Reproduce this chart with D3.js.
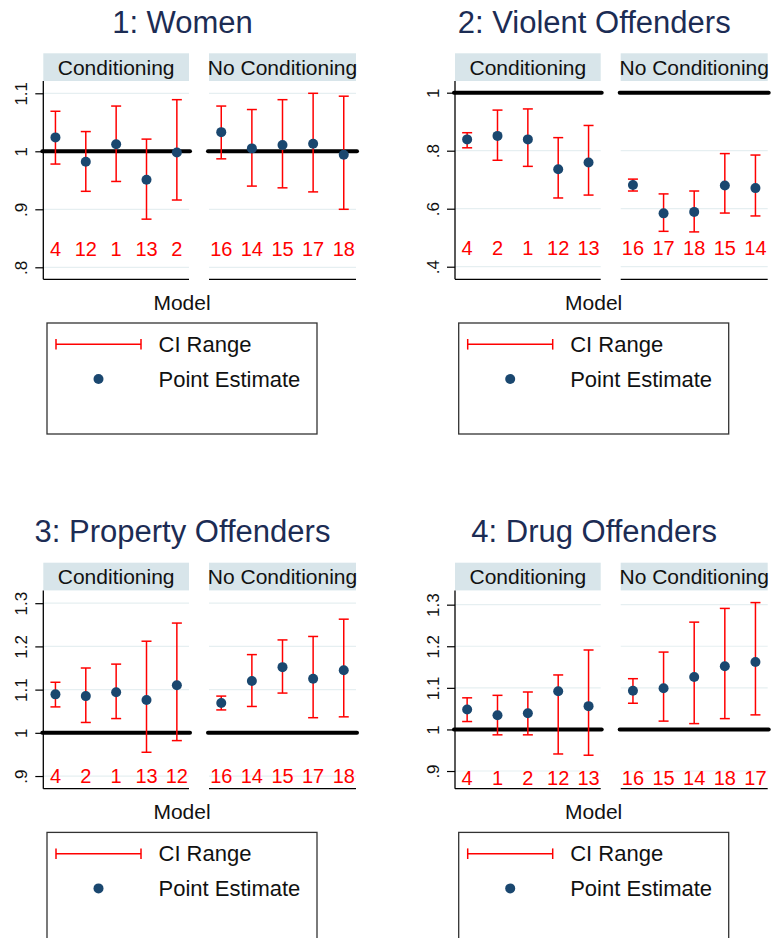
<!DOCTYPE html>
<html>
<head>
<meta charset="utf-8">
<script src="https://cdn.jsdelivr.net/npm/d3@7"></script>
<style>
  html, body { margin: 0; padding: 0; background: #fff; }
  svg { display: block; font-family: "Liberation Sans", Arial, sans-serif; }
</style>
</head>
<body>
<svg id="chart" width="771" height="938"></svg>
<script>
// ---------- data ----------
const panelTitles = ["1: Women", "2: Violent Offenders", "3: Property Offenders", "4: Drug Offenders"];
const facetNames = ["Conditioning", "No Conditioning"];

const womenModels = [["4", "12", "1", "13", "2"], ["16", "14", "15", "17", "18"]];
const womenEst = [1.024, 0.982, 1.012, 0.951, 0.998, 1.033, 1.005, 1.011, 1.013, 0.994];
const womenLo  = [0.978, 0.931, 0.948, 0.883, 0.916, 0.987, 0.940, 0.937, 0.930, 0.900];
const womenHi  = [1.069, 1.034, 1.078, 1.021, 1.089, 1.078, 1.072, 1.089, 1.100, 1.095];

const violentModels = [["4", "2", "1", "12", "13"], ["16", "17", "18", "15", "14"]];
const violentEst = [0.839, 0.851, 0.839, 0.736, 0.759, 0.682, 0.584, 0.589, 0.680, 0.671];
const violentLo  = [0.810, 0.767, 0.746, 0.637, 0.647, 0.661, 0.522, 0.520, 0.585, 0.575];
const violentHi  = [0.862, 0.940, 0.944, 0.845, 0.887, 0.702, 0.651, 0.661, 0.790, 0.785];

const propertyModels = [["4", "2", "1", "13", "12"], ["16", "14", "15", "17", "18"]];
const propertyEst = [1.089, 1.085, 1.094, 1.076, 1.110, 1.069, 1.120, 1.152, 1.125, 1.145];
const propertyLo  = [1.060, 1.024, 1.033, 0.955, 0.982, 1.053, 1.061, 1.092, 1.035, 1.037];
const propertyHi  = [1.117, 1.150, 1.159, 1.212, 1.254, 1.085, 1.181, 1.215, 1.223, 1.263];

const drugModels = [["4", "1", "2", "12", "13"], ["16", "15", "14", "18", "17"]];
const drugEst = [1.048, 1.034, 1.039, 1.092, 1.056, 1.093, 1.099, 1.126, 1.152, 1.162];
const drugLo  = [1.019, 0.987, 0.987, 0.941, 0.938, 1.063, 1.020, 1.014, 1.026, 1.035];
const drugHi  = [1.076, 1.082, 1.090, 1.131, 1.191, 1.122, 1.186, 1.258, 1.291, 1.305];

const womenTicks = [0.8, 0.9, 1, 1.1];
const womenTickLabels = [".8", ".9", "1", "1.1"];
const violentTicks = [0.4, 0.6, 0.8, 1];
const violentTickLabels = [".4", ".6", ".8", "1"];
const propertyTicks = [0.9, 1, 1.1, 1.2, 1.3];
const propertyTickLabels = [".9", "1", "1.1", "1.2", "1.3"];
const drugTicks = [0.9, 1, 1.1, 1.2, 1.3];
const drugTickLabels = [".9", "1", "1.1", "1.2", "1.3"];

const referenceValue = 1;
const legendLabels = ["CI Range", "Point Estimate"];
const xTitle = "Model";

// ---------- panel configuration (built from arrays above) ----------
const panels = [
  { title: panelTitles[0], models: womenModels, est: womenEst, lo: womenLo, hi: womenHi,
    ticks: womenTicks, tickLabels: womenTickLabels, domain: [0.7793, 1.1212], labelAt: 0.832, ox: 0, oy: 0 },
  { title: panelTitles[1], models: violentModels, est: violentEst, lo: violentLo, hi: violentHi,
    ticks: violentTicks, tickLabels: violentTickLabels, domain: [0.3566, 1.0403], labelAt: 0.463, ox: 411.7, oy: 0 },
  { title: panelTitles[2], models: propertyModels, est: propertyEst, lo: propertyLo, hi: propertyHi,
    ticks: propertyTicks, tickLabels: propertyTickLabels, domain: [0.8707, 1.3296], labelAt: 0.9, ox: 0, oy: 509.4 },
  { title: panelTitles[3], models: drugModels, est: drugEst, lo: drugLo, hi: drugHi,
    ticks: drugTicks, tickLabels: drugTickLabels, domain: [0.8575, 1.3343], labelAt: 0.883, ox: 411.7, oy: 509.4 }
];

const COL_TITLE = "#1c2c54";
const COL_POINT = "#1a476f";
const COL_CI = "#ff0000";
const COL_STRIP = "#d8e5ea";
const COL_GRID = "#e6eff1";

const svg = d3.select("#chart");
svg.append("rect").attr("width", 771).attr("height", 938).attr("fill", "#fff");

panels.forEach(p => {
  const g = svg.append("g").attr("transform", `translate(${p.ox},${p.oy})`);
  const plotTop = 81, plotBottom = 279.3;
  const facetRanges = [[43.3, 189], [209, 356]];
  const y = d3.scaleLinear().domain(p.domain).range([plotBottom, plotTop]);

  // title
  g.append("text").attr("x", 182.5).attr("y", 33).attr("text-anchor", "middle")
    .attr("font-size", 31).attr("fill", COL_TITLE).text(p.title);

  facetRanges.forEach((fr, fi) => {
    const x = d3.scaleLinear().domain([0.6, 5.4]).range(fr);
    const fg = g.append("g");

    // strip
    fg.append("rect").attr("x", fr[0]).attr("y", 53.3).attr("width", fr[1] - fr[0]).attr("height", 81 - 53.3)
      .attr("fill", COL_STRIP);
    fg.append("text").attr("x", (fr[0] + fr[1]) / 2).attr("y", 74.5).attr("text-anchor", "middle")
      .attr("font-size", 21).attr("fill", "#111").text(facetNames[fi]);

    // gridlines
    fg.selectAll("line.grid").data(p.ticks).join("line").attr("class", "grid")
      .attr("x1", fr[0]).attr("x2", fr[1]).attr("y1", d => y(d)).attr("y2", d => y(d))
      .attr("stroke", COL_GRID).attr("stroke-width", 1.2);

    // bottom axis line
    fg.append("line").attr("x1", fr[0]).attr("x2", fr[1]).attr("y1", plotBottom).attr("y2", plotBottom)
      .attr("stroke", "#000").attr("stroke-width", 1.3);

    // reference line
    fg.append("line").attr("x1", fr[0] - 1).attr("x2", fr[1] + 1)
      .attr("y1", y(referenceValue)).attr("y2", y(referenceValue))
      .attr("stroke", "#000").attr("stroke-width", 4).attr("stroke-linecap", "round");

    const rows = p.models[fi].map((m, i) => ({
      m, pos: i + 1, est: p.est[fi * 5 + i], lo: p.lo[fi * 5 + i], hi: p.hi[fi * 5 + i]
    }));

    // CI bars
    const ci = fg.selectAll("g.ci").data(rows).join("g").attr("class", "ci");
    ci.append("line").attr("x1", d => x(d.pos)).attr("x2", d => x(d.pos))
      .attr("y1", d => y(d.lo)).attr("y2", d => y(d.hi)).attr("stroke", COL_CI).attr("stroke-width", 1.5);
    ci.append("line").attr("x1", d => x(d.pos) - 5).attr("x2", d => x(d.pos) + 5)
      .attr("y1", d => y(d.lo)).attr("y2", d => y(d.lo)).attr("stroke", COL_CI).attr("stroke-width", 1.5);
    ci.append("line").attr("x1", d => x(d.pos) - 5).attr("x2", d => x(d.pos) + 5)
      .attr("y1", d => y(d.hi)).attr("y2", d => y(d.hi)).attr("stroke", COL_CI).attr("stroke-width", 1.5);

    // points
    fg.selectAll("circle.pt").data(rows).join("circle").attr("class", "pt")
      .attr("cx", d => x(d.pos)).attr("cy", d => y(d.est)).attr("r", 5).attr("fill", COL_POINT);

    // model labels
    fg.selectAll("text.ml").data(rows).join("text").attr("class", "ml")
      .attr("x", d => x(d.pos)).attr("y", y(p.labelAt)).attr("dy", "0.35em").attr("text-anchor", "middle")
      .attr("font-size", 20).attr("fill", COL_CI).text(d => d.m);
  });

  // y axis
  const axis = d3.axisLeft(y).tickValues(p.ticks).tickSize(8).tickFormat((d, i) => p.tickLabels[i]);
  const ag = g.append("g").attr("transform", `translate(43.3,0)`).call(axis);
  ag.select(".domain").attr("d", `M0,${plotTop}V${plotBottom}`).attr("stroke", "#000").attr("stroke-width", 1.3);
  ag.selectAll(".tick line").attr("stroke", "#000").attr("stroke-width", 1.2);
  ag.selectAll(".tick text")
    .attr("font-size", 17).attr("fill", "#111").attr("font-family", "Liberation Sans, Arial, sans-serif")
    .attr("x", null).attr("dy", null).attr("text-anchor", "middle")
    .attr("transform", "translate(-16.3,0) rotate(-90)");

  // x title
  g.append("text").attr("x", 182).attr("y", 310).attr("text-anchor", "middle")
    .attr("font-size", 21).attr("fill", "#111").text(xTitle);

  // legend
  const lg = g.append("g").attr("transform", "translate(47,323)");
  lg.append("rect").attr("x", 0).attr("y", 0).attr("width", 270).attr("height", 111)
    .attr("fill", "#fff").attr("stroke", "#333").attr("stroke-width", 1.3);
  lg.append("line").attr("x1", 9).attr("x2", 94).attr("y1", 21.3).attr("y2", 21.3)
    .attr("stroke", COL_CI).attr("stroke-width", 1.5);
  [9, 94].forEach(xx => lg.append("line").attr("x1", xx).attr("x2", xx).attr("y1", 16).attr("y2", 26.6)
    .attr("stroke", COL_CI).attr("stroke-width", 1.5));
  lg.append("circle").attr("cx", 51.5).attr("cy", 56).attr("r", 5).attr("fill", COL_POINT);
  lg.append("text").attr("x", 111.5).attr("y", 21.3).attr("dy", "0.35em").attr("font-size", 22)
    .attr("fill", "#111").text(legendLabels[0]);
  lg.append("text").attr("x", 111.5).attr("y", 56).attr("dy", "0.35em").attr("font-size", 22)
    .attr("fill", "#111").text(legendLabels[1]);
});
</script>
</body>
</html>
